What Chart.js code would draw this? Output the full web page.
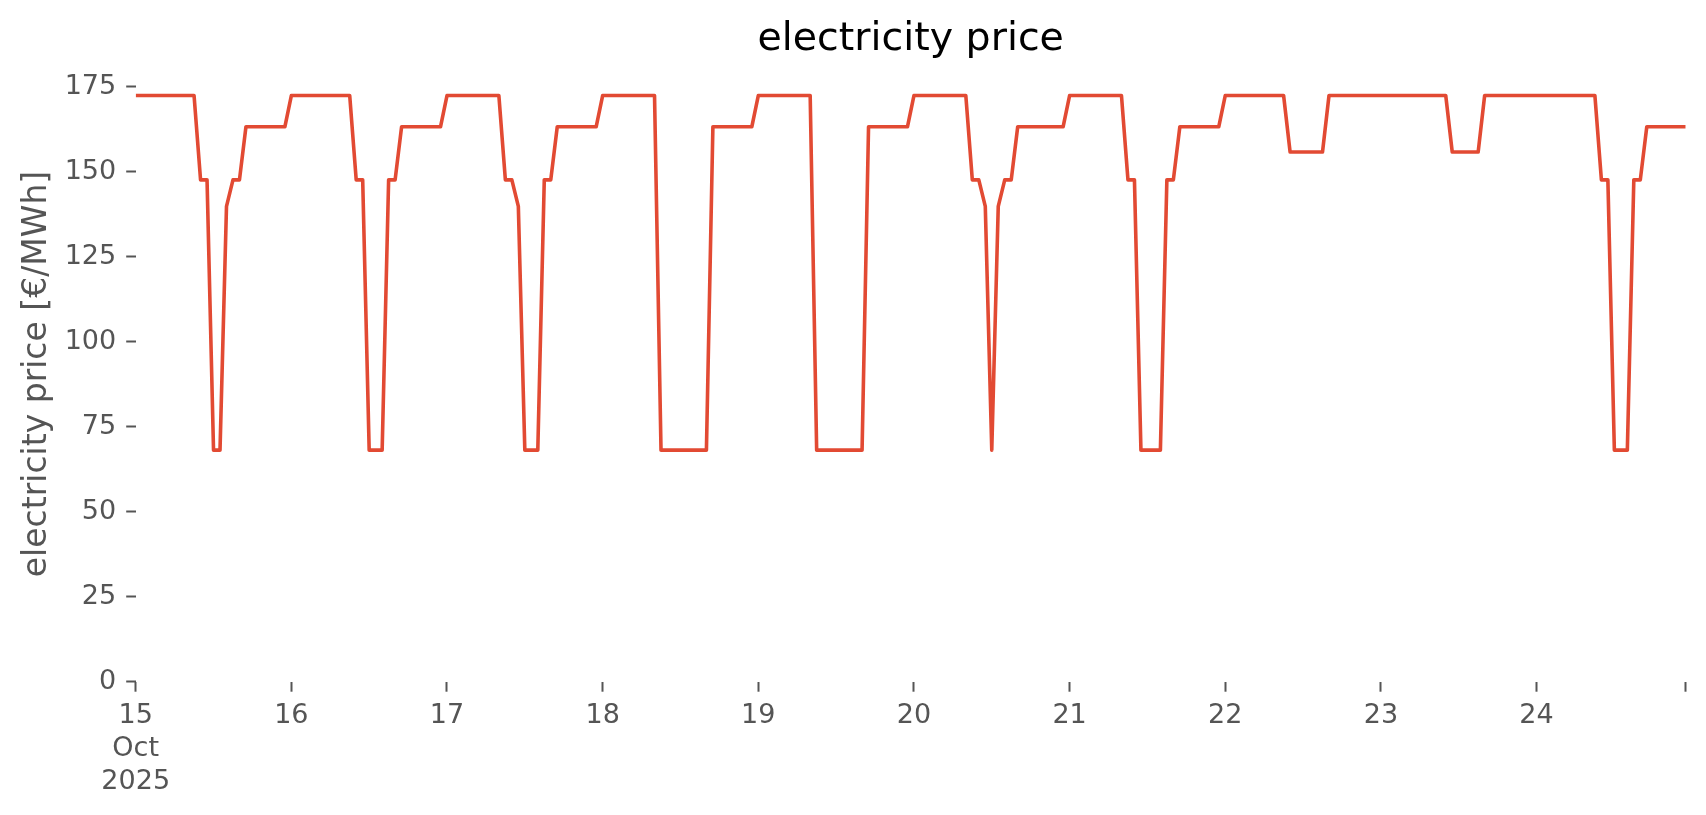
<!DOCTYPE html>
<html>
<head>
<meta charset="utf-8">
<title>electricity price</title>
<script src="https://cdn.jsdelivr.net/npm/chart.js@4.4.1/dist/chart.umd.min.js"></script>
<style>
  html, body { margin: 0; padding: 0; background: #fff; }
  canvas { display: block; }
</style>
</head>
<body>
<canvas id="priceChart" width="1706" height="815"></canvas>
<script>
// hourly price in €/MWh, one array per day, 00:00 .. 23:00
var oct15 = [172.4, 172.4, 172.4, 172.4, 172.4, 172.4, 172.4, 172.4, 172.4, 172.4, 147.6, 147.6,
             68.1, 68.1, 139.8, 147.6, 147.6, 163.2, 163.2, 163.2, 163.2, 163.2, 163.2, 163.2];
var oct16 = [172.4, 172.4, 172.4, 172.4, 172.4, 172.4, 172.4, 172.4, 172.4, 172.4, 147.6, 147.6,
             68.1, 68.1, 68.1, 147.6, 147.6, 163.2, 163.2, 163.2, 163.2, 163.2, 163.2, 163.2];
var oct17 = [172.4, 172.4, 172.4, 172.4, 172.4, 172.4, 172.4, 172.4, 172.4, 147.6, 147.6, 139.8,
             68.1, 68.1, 68.1, 147.6, 147.6, 163.2, 163.2, 163.2, 163.2, 163.2, 163.2, 163.2];
var oct18 = [172.4, 172.4, 172.4, 172.4, 172.4, 172.4, 172.4, 172.4, 172.4, 68.1, 68.1, 68.1,
             68.1, 68.1, 68.1, 68.1, 68.1, 163.2, 163.2, 163.2, 163.2, 163.2, 163.2, 163.2];
var oct19 = [172.4, 172.4, 172.4, 172.4, 172.4, 172.4, 172.4, 172.4, 172.4, 68.1, 68.1, 68.1,
             68.1, 68.1, 68.1, 68.1, 68.1, 163.2, 163.2, 163.2, 163.2, 163.2, 163.2, 163.2];
var oct20 = [172.4, 172.4, 172.4, 172.4, 172.4, 172.4, 172.4, 172.4, 172.4, 147.6, 147.6, 139.8,
             68.1, 139.8, 147.6, 147.6, 163.2, 163.2, 163.2, 163.2, 163.2, 163.2, 163.2, 163.2];
var oct21 = [172.4, 172.4, 172.4, 172.4, 172.4, 172.4, 172.4, 172.4, 172.4, 147.6, 147.6, 68.1,
             68.1, 68.1, 68.1, 147.6, 147.6, 163.2, 163.2, 163.2, 163.2, 163.2, 163.2, 163.2];
var oct22 = [172.4, 172.4, 172.4, 172.4, 172.4, 172.4, 172.4, 172.4, 172.4, 172.4, 155.8, 155.8,
             155.8, 155.8, 155.8, 155.8, 172.4, 172.4, 172.4, 172.4, 172.4, 172.4, 172.4, 172.4];
var oct23 = [172.4, 172.4, 172.4, 172.4, 172.4, 172.4, 172.4, 172.4, 172.4, 172.4, 172.4, 155.8,
             155.8, 155.8, 155.8, 155.8, 172.4, 172.4, 172.4, 172.4, 172.4, 172.4, 172.4, 172.4];
var oct24 = [172.4, 172.4, 172.4, 172.4, 172.4, 172.4, 172.4, 172.4, 172.4, 172.4, 147.6, 147.6,
             68.1, 68.1, 68.1, 147.6, 147.6, 163.2, 163.2, 163.2, 163.2, 163.2, 163.2, 163.2];

var dayLabels     = ['15', '16', '17', '18', '19', '20', '21', '22', '23', '24'];
var firstDayLabel = ['15', 'Oct', '2025'];
var xTickHours    = [0, 24, 48, 72, 96, 120, 144, 168, 192, 216, 239];
var yTicks        = [0, 25, 50, 75, 100, 125, 150, 175];

var hourly = [].concat(oct15, oct16, oct17, oct18, oct19, oct20, oct21, oct22, oct23, oct24);
var points = hourly.map(function(v, i) { return {x: i, y: v}; });

var grey = '#555555';
var font = 'DejaVu Sans';

new Chart(document.getElementById('priceChart'), {
    type: 'line',
    data: {
        datasets: [{
            data: points,
            borderColor: '#E24A33',
            borderWidth: 3.6,
            pointRadius: 0,
            tension: 0,
            borderJoinStyle: 'round'
        }]
    },
    options: {
        responsive: false,
        animation: false,
        devicePixelRatio: 1,
        layout: { padding: { left: 0, top: 0, right: 20.3, bottom: 0 } },
        plugins: {
            legend: { display: false },
            tooltip: { enabled: false },
            title: {
                display: true,
                text: 'electricity price',
                color: '#000000',
                fullSize: false,
                font: { family: font, size: 39.5, weight: 'normal', lineHeight: 1.2 },
                padding: { top: 16.3, bottom: 2.6 }
            }
        },
        scales: {
            x: {
                type: 'linear',
                min: 0,
                max: 239,
                border: { display: false },
                grid: { drawOnChartArea: false, drawTicks: true, tickLength: 10, tickWidth: 2, tickColor: grey },
                afterBuildTicks: function(scale) {
                    scale.ticks = xTickHours.map(function(v) { return {value: v}; });
                },
                afterFit: function(scale) { scale.height = 815 - 681.7; },
                ticks: {
                    autoSkip: false,
                    maxRotation: 0,
                    minRotation: 0,
                    padding: 8,
                    color: grey,
                    font: { family: font, size: 27, lineHeight: 1.22 },
                    callback: function(value) {
                        if (value % 24 !== 0) return '';
                        var d = value / 24;
                        return d === 0 ? firstDayLabel : dayLabels[d];
                    }
                }
            },
            y: {
                min: 0,
                max: 181,
                border: { display: false },
                grid: { drawOnChartArea: false, drawTicks: true, tickLength: 9.5, tickWidth: 2, tickColor: grey },
                afterBuildTicks: function(scale) {
                    scale.ticks = yTicks.map(function(v) { return {value: v}; });
                },
                afterFit: function(scale) { scale.width = 135.7; },
                ticks: {
                    padding: 10,
                    color: grey,
                    font: { family: font, size: 27 }
                },
                title: {
                    display: true,
                    text: 'electricity price [€/MWh]',
                    color: grey,
                    font: { family: font, size: 33, lineHeight: 1.2 },
                    padding: { top: 18, bottom: 0 }
                }
            }
        }
    }
});
</script>
</body>
</html>
